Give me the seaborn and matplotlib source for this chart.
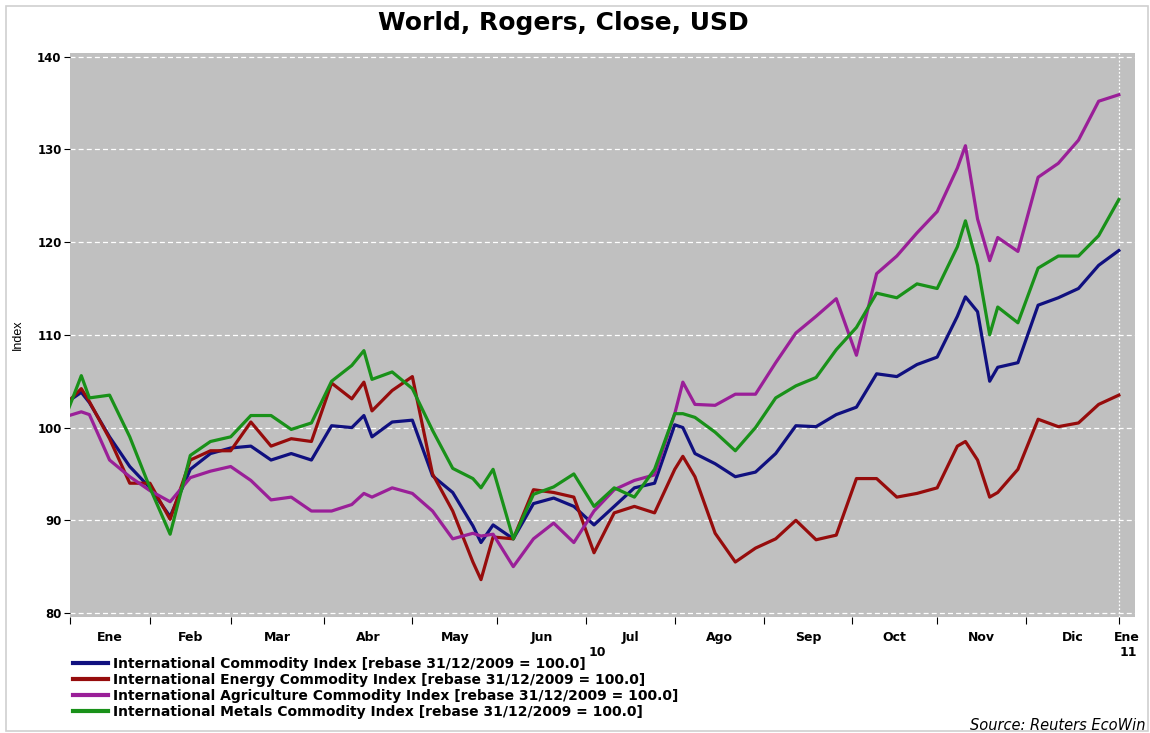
import numpy as np
import pandas as pd
import matplotlib
matplotlib.use("Agg")
import matplotlib.pyplot as plt
import seaborn as sns
from matplotlib.patches import Rectangle
from matplotlib.lines import Line2D

# ---------------- data (business-day offsets from 1 Jan 2010) ----------------
bday = [0, 3, 5, 10, 15, 20, 25, 30, 35, 40, 45, 50, 55, 60, 65, 70, 73, 75, 80, 85, 90,
        95, 100, 102, 105, 110, 115, 120, 125, 130, 135, 140, 145, 150, 152, 155, 160,
        165, 170, 175, 180, 185, 190, 195, 200, 205, 210, 215, 220, 222, 225, 228, 230,
        235, 240, 245, 250, 255, 260]

commodity = [102.9, 103.8, 102.7, 99.0, 95.8, 93.5, 90.4, 95.5, 97.2, 97.8, 98.0, 96.5,
             97.2, 96.5, 100.2, 100.0, 101.3, 99.0, 100.6, 100.8, 94.8, 93.0, 89.4, 87.6,
             89.5, 88.0, 91.8, 92.4, 91.5, 89.5, 91.5, 93.5, 94.0, 100.3, 100.0, 97.2,
             96.1, 94.7, 95.2, 97.2, 100.2, 100.1, 101.4, 102.2, 105.8, 105.5, 106.8,
             107.6, 112.0, 114.1, 112.5, 105.0, 106.5, 107.0, 113.2, 114.0, 115.0, 117.5,
             119.1]

energy = [102.9, 104.2, 102.8, 98.8, 94.0, 94.0, 90.1, 96.5, 97.5, 97.5, 100.6, 98.0,
          98.8, 98.5, 104.8, 103.1, 104.9, 101.8, 104.0, 105.5, 95.0, 91.0, 85.5, 83.6,
          88.2, 88.0, 93.3, 93.0, 92.5, 86.5, 90.8, 91.5, 90.8, 95.5, 96.9, 94.7, 88.6,
          85.5, 87.0, 88.0, 90.0, 87.9, 88.4, 94.5, 94.5, 92.5, 92.9, 93.5,
          98.0, 98.5, 96.5, 92.5, 93.0, 95.5, 100.9, 100.1, 100.5, 102.5, 103.5]

agriculture = [101.3, 101.7, 101.4, 96.5, 94.7, 93.2, 92.0, 94.6, 95.3, 95.8, 94.3, 92.2,
               92.5, 91.0, 91.0, 91.7, 92.9, 92.5, 93.5, 92.9, 91.0, 88.0, 88.6, 88.3,
               88.5, 85.0, 88.0, 89.7, 87.6, 91.0, 93.3, 94.3, 94.9, 101.5, 104.9, 102.5,
               102.4, 103.6, 103.6, 107.0, 110.2, 112.0, 113.9, 107.8, 116.6, 118.5, 121.0,
               123.3, 128.0, 130.4, 122.5, 118.0, 120.5, 119.0, 127.0, 128.5, 131.0, 135.2,
               135.9]

metals = [102.2, 105.6, 103.2, 103.5, 99.0, 93.5, 88.5, 97.0, 98.5, 99.0, 101.3, 101.3,
          99.8, 100.5, 105.0, 106.7, 108.3, 105.2, 106.0, 104.2, 99.7, 95.6, 94.5, 93.5,
          95.5, 88.0, 92.8, 93.6, 95.0, 91.5, 93.5, 92.5, 95.5, 101.5, 101.5, 101.1, 99.5,
          97.5, 100.0, 103.2, 104.5, 105.4, 108.4, 110.8, 114.5, 114.0, 115.5, 115.0,
          119.5, 122.3, 117.5, 110.0, 113.0, 111.3, 117.2, 118.5, 118.5, 120.7, 124.6]

series_names = [
    "International Commodity Index [rebase 31/12/2009 = 100.0]",
    "International Energy Commodity Index [rebase 31/12/2009 = 100.0]",
    "International Agriculture Commodity Index [rebase 31/12/2009 = 100.0]",
    "International Metals Commodity Index [rebase 31/12/2009 = 100.0]",
]
series_colors = ["#10107f", "#960c0c", "#9a1f98", "#199119"]
month_labels = ["Ene", "Feb", "Mar", "Abr", "May", "Jun", "Jul", "Ago", "Sep", "Oct",
                "Nov", "Dic", "Ene"]
year_labels = ["10", "11"]
y_ticks = [80, 90, 100, 110, 120, 130, 140]

# ---------------- build long table ----------------
frames = []
for name, vals in zip(series_names, [commodity, energy, agriculture, metals]):
    frames.append(pd.DataFrame({"bday": bday, "value": vals, "series": name}))
df = pd.concat(frames, ignore_index=True)

days = pd.bdate_range("2010-01-01", "2011-01-03")
month_starts = [i for i, d in enumerate(days) if i > 0 and d.month != days[i - 1].month]
XMIN, XMAX = 0.2, 264.0
# month boundaries: marked at the last business day of the previous month
ticks = [XMIN] + [m - 1 for m in month_starts]

# ---------------- figure ----------------
W, H = 1150, 733
fig = plt.figure(figsize=(W / 100, H / 100), dpi=100)
fig.patch.set_facecolor("white")

def fx(px):
    return px / W

def fy(py):
    return 1 - py / H

BOLD = {"family": "DejaVu Sans", "weight": "bold"}

ax = fig.add_axes([fx(70), fy(617), fx(1135) - fx(70), fy(53) - fy(617)])
ax.set_facecolor("#c0c0c0")

for y in y_ticks:
    ax.axhline(y, color="white", lw=0.9, ls=(0, (4, 2.5)), zorder=1)
ax.axvline(ticks[-1], color="white", lw=0.9, ls=(0, (1.5, 1.5)), zorder=1)

sns.lineplot(data=df, x="bday", y="value", hue="series", hue_order=series_names,
             palette=series_colors, linewidth=2.3, ax=ax, legend=False, zorder=3)

ax.set_xlim(XMIN, XMAX)
ax.set_ylim(79.57, 140.4)
for s in ax.spines.values():
    s.set_visible(False)

ax.set_yticks(y_ticks)
ax.set_yticklabels([str(v) for v in y_ticks], fontsize=8.5, **BOLD)
ax.tick_params(axis="y", length=4, width=0.8, color="black", pad=2)

ax.set_xticks(ticks)
ax.set_xticklabels([""] * len(ticks))
ax.tick_params(axis="x", which="major", length=5, width=0.8, color="black", direction="out")
mids = [(ticks[i] + ticks[i + 1]) / 2 for i in range(12)] + [ticks[-1] + 2]
ax.set_xticks(mids, minor=True)
ax.set_xticklabels(month_labels, minor=True, fontsize=9, **BOLD)
ax.tick_params(axis="x", which="minor", length=0, pad=10)

ax.set_xlabel("")
ax.set_ylabel("")
fig.text(fx(18), fy(335), "Index", rotation=90, ha="center", va="center", fontsize=9,
         family="Liberation Sans")

# year labels
fig.text(fx(597), fy(653), year_labels[0], ha="center", va="center", fontsize=9, **BOLD)
fig.text(fx(1128), fy(653), year_labels[1], ha="center", va="center", fontsize=9, **BOLD)

# title
fig.text(fx(563), fy(23), "World, Rogers, Close, USD", ha="center", va="center",
         fontsize=18, **BOLD)

# legend
handles = [Line2D([0], [0], color=c, lw=3) for c in series_colors]
leg = fig.legend(handles, series_names, loc="upper left",
                 bbox_to_anchor=(fx(73), fy(657)), frameon=False,
                 prop={"family": "DejaVu Sans", "weight": "bold", "size": 10},
                 handlelength=2.5, handletextpad=0.35, labelspacing=0.15,
                 borderaxespad=0, borderpad=0)

fig.text(fx(1145), fy(725), "Source: Reuters EcoWin", ha="right", va="center",
         fontsize=10.5, style="italic", family="DejaVu Sans")

fig.patches.append(Rectangle((fx(6), fy(731)), fx(1142), fy(6) - fy(731),
                             transform=fig.transFigure, fill=False,
                             edgecolor="#d0d0d0", lw=1.2))

fig.savefig("out.png", dpi=100)
